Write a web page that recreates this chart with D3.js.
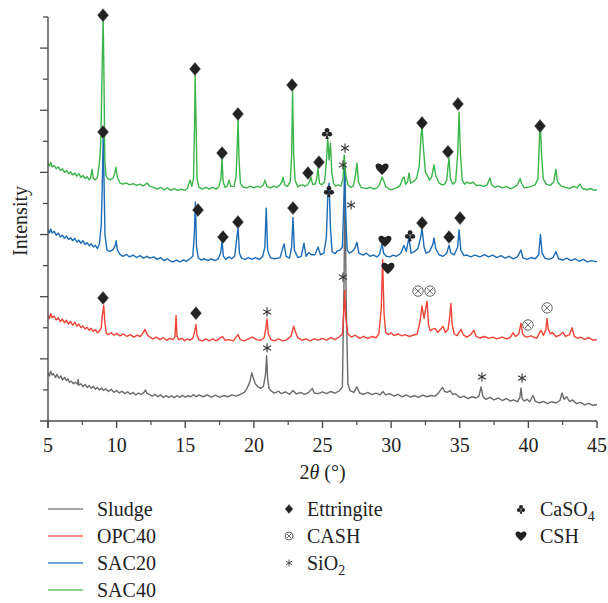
<!DOCTYPE html>
<html>
<head>
<meta charset="utf-8">
<script src="https://cdn.jsdelivr.net/npm/d3@7"></script>
<style>
  html, body { margin: 0; padding: 0; background: #fff; }
  svg { display: block; }
  text { font-family: "Liberation Serif", "DejaVu Serif", serif; fill: #222; }
</style>
</head>
<body>
<svg id="chart" width="608" height="603"></svg>
<script>
// XRD patterns, 2θ (°) vs. stacked intensity (a.u.)
const sludge = [
  [5.00,1.55],[5.10,1.45],[5.20,1.60],[5.30,1.48],[5.40,1.52],[5.55,1.40],[5.65,1.50],[5.80,1.38],[5.95,1.45],[6.05,1.32],
  [6.20,1.40],[6.35,1.30],[6.45,1.36],[6.55,1.25],[6.70,1.28],[6.85,1.20],[7.00,1.25],[7.15,1.18],[7.20,1.34],[7.25,1.15],
  [7.40,1.20],[7.55,1.10],[7.70,1.18],[7.85,1.08],[8.00,1.14],[8.15,1.05],[8.30,1.12],[8.45,1.02],[8.60,1.08],[8.75,1.00],
  [8.90,1.06],[9.05,0.98],[9.20,1.04],[9.40,0.95],[9.60,1.02],[9.80,0.92],[10.00,0.98],[10.20,0.90],[10.40,0.96],[10.60,0.88],
  [10.80,0.94],[11.00,0.86],[11.20,0.92],[11.40,0.84],[11.60,0.90],[11.80,0.86],[12.00,0.92],[12.10,1.00],[12.20,0.90],[12.40,0.85],
  [12.60,0.80],[12.80,0.86],[13.00,0.78],[13.20,0.84],[13.40,0.76],[13.60,0.82],[13.80,0.76],[14.00,0.81],[14.20,0.75],[14.40,0.82],
  [14.60,0.76],[14.80,0.83],[15.00,0.77],[15.20,0.82],[15.40,0.78],[15.60,0.85],[15.80,0.78],[16.00,0.84],[16.30,0.78],[16.60,0.84],
  [16.90,0.77],[17.20,0.83],[17.50,0.76],[17.80,0.82],[18.10,0.78],[18.40,0.84],[18.70,0.80],[19.00,0.86],[19.30,0.92],[19.50,1.05],
  [19.70,1.25],[19.85,1.55],[19.95,1.40],[20.10,1.20],[20.30,1.10],[20.50,1.05],[20.70,1.12],[20.85,1.50],[20.93,2.10],[21.00,1.40],
  [21.10,1.05],[21.30,0.95],[21.50,0.90],[21.80,0.96],[22.00,0.88],[22.30,0.94],[22.60,0.86],[22.85,0.98],[23.10,0.87],[23.40,0.92],
  [23.70,0.86],[24.00,0.92],[24.25,1.05],[24.40,0.90],[24.70,0.88],[25.00,0.94],[25.30,0.88],[25.60,0.95],[25.90,0.90],[26.20,0.96],
  [26.45,1.10],[26.57,4.50],[26.64,8.10],[26.72,4.00],[26.85,1.20],[27.00,0.98],[27.30,0.92],[27.50,1.10],[27.70,0.90],[28.00,0.86],
  [28.30,0.92],[28.60,0.85],[28.90,0.90],[29.20,0.84],[29.40,0.95],[29.60,0.84],[29.90,0.88],[30.20,0.80],[30.50,0.86],[30.80,0.78],
  [31.10,0.84],[31.40,0.77],[31.70,0.82],[32.00,0.76],[32.30,0.83],[32.60,0.78],[32.90,0.82],[33.20,0.80],[33.45,0.90],[33.60,1.00],
  [33.75,1.08],[33.90,0.95],[34.10,0.92],[34.30,0.98],[34.50,0.85],[34.70,0.88],[35.00,0.75],[35.30,0.80],[35.60,0.72],[35.90,0.78],
  [36.20,0.74],[36.40,0.80],[36.55,1.10],[36.70,0.78],[36.90,0.70],[37.20,0.76],[37.50,0.68],[37.80,0.74],[38.10,0.66],[38.40,0.72],
  [38.70,0.64],[38.90,0.68],[39.20,0.62],[39.38,0.75],[39.46,1.06],[39.55,0.72],[39.70,0.64],[39.90,0.70],[40.10,0.62],[40.34,0.82],
  [40.50,0.64],[40.80,0.58],[41.10,0.63],[41.40,0.56],[41.70,0.62],[42.00,0.58],[42.30,0.66],[42.45,0.90],[42.60,0.70],[42.80,0.78],
  [43.00,0.62],[43.20,0.68],[43.50,0.56],[43.80,0.60],[44.10,0.52],[44.40,0.57],[44.70,0.50],[45.00,0.53]
];

const opc40 = [
  [5.00,3.40],[5.10,3.30],[5.20,3.45],[5.30,3.32],[5.45,3.38],[5.60,3.25],[5.75,3.32],[5.90,3.20],[6.05,3.28],[6.20,3.16],
  [6.35,3.24],[6.50,3.12],[6.65,3.20],[6.80,3.08],[6.95,3.18],[7.10,3.05],[7.25,3.12],[7.40,3.00],[7.55,3.06],[7.70,2.96],
  [7.85,3.02],[8.00,2.92],[8.15,2.98],[8.30,2.88],[8.45,2.94],[8.60,2.84],[8.75,2.90],[8.88,3.00],[8.96,3.40],[9.06,3.72],
  [9.14,3.20],[9.25,2.82],[9.40,2.78],[9.60,2.84],[9.80,2.76],[10.00,2.82],[10.25,2.74],[10.50,2.80],[10.75,2.72],[11.00,2.78],
  [11.25,2.70],[11.50,2.76],[11.75,2.72],[11.95,2.85],[12.07,2.95],[12.20,2.80],[12.40,2.70],[12.65,2.64],[12.90,2.70],[13.15,2.62],
  [13.40,2.68],[13.65,2.60],[13.90,2.66],[14.10,2.62],[14.25,2.70],[14.33,3.40],[14.40,2.72],[14.55,2.62],[14.76,2.66],[14.95,2.58],
  [15.13,2.64],[15.35,2.60],[15.55,2.66],[15.70,2.90],[15.78,3.10],[15.86,2.75],[16.00,2.62],[16.25,2.58],[16.50,2.64],[16.75,2.58],
  [17.00,2.64],[17.25,2.58],[17.50,2.66],[17.70,2.72],[17.90,2.60],[18.20,2.62],[18.50,2.58],[18.84,2.78],[19.00,2.62],[19.30,2.58],
  [19.60,2.64],[19.90,2.70],[20.20,2.62],[20.50,2.60],[20.75,2.68],[20.88,3.00],[20.96,3.28],[21.05,2.80],[21.25,2.62],[21.50,2.58],
  [21.80,2.64],[22.10,2.58],[22.40,2.62],[22.70,2.72],[22.90,3.05],[23.00,2.90],[23.20,2.68],[23.50,2.60],[23.80,2.64],[24.10,2.58],
  [24.40,2.64],[24.70,2.60],[25.00,2.66],[25.30,2.60],[25.60,2.68],[25.90,2.62],[26.20,2.70],[26.45,2.80],[26.55,3.50],[26.62,4.20],
  [26.70,3.30],[26.85,2.80],[27.10,2.70],[27.40,2.76],[27.70,2.66],[28.00,2.72],[28.30,2.65],[28.60,2.72],[28.90,2.68],[29.10,2.80],
  [29.28,3.60],[29.38,5.20],[29.48,3.50],[29.60,2.85],[29.80,2.78],[30.00,2.84],[30.20,2.75],[30.50,2.80],[30.80,2.74],[31.00,2.78],
  [31.30,2.72],[31.60,2.76],[31.90,2.80],[32.10,3.20],[32.25,3.70],[32.40,3.30],[32.55,3.70],[32.62,3.85],[32.72,3.10],[32.85,2.90],
  [33.00,2.95],[33.20,2.98],[33.40,2.85],[33.60,2.95],[33.78,3.05],[33.95,2.85],[34.15,2.95],[34.28,3.40],[34.36,3.78],[34.45,3.10],
  [34.60,2.80],[34.80,2.75],[35.09,2.95],[35.25,2.78],[35.50,2.70],[35.75,2.76],[36.04,2.92],[36.20,2.72],[36.48,2.67],[36.80,2.72],
  [37.10,2.66],[37.42,2.70],[37.70,2.64],[38.10,2.70],[38.44,2.64],[38.70,2.70],[38.88,2.84],[39.05,2.72],[39.30,2.80],[39.46,3.15],
  [39.58,2.80],[39.75,2.72],[39.90,2.70],[40.20,2.74],[40.60,2.66],[40.92,2.92],[41.10,2.75],[41.28,2.95],[41.36,3.30],[41.45,2.95],
  [41.60,2.80],[41.75,2.85],[42.00,2.72],[42.30,2.76],[42.52,2.86],[42.70,2.72],[43.00,2.78],[43.18,3.00],[43.35,2.72],[43.60,2.66],
  [43.80,2.70],[44.10,2.63],[44.40,2.68],[44.70,2.60],[45.00,2.62]
];

const sac20 = [
  [5.00,6.15],[5.10,6.05],[5.20,6.18],[5.30,6.05],[5.45,6.10],[5.60,5.98],[5.75,6.05],[5.90,5.92],[6.05,5.98],[6.20,5.88],
  [6.35,5.95],[6.50,5.84],[6.65,5.90],[6.80,5.80],[6.95,5.88],[7.10,5.76],[7.25,5.82],[7.40,5.72],[7.55,5.80],[7.70,5.68],
  [7.85,5.74],[8.00,5.64],[8.15,5.70],[8.30,5.60],[8.45,5.65],[8.60,5.55],[8.75,5.70],[8.88,6.30],[8.95,7.50],[9.02,9.10],
  [9.08,7.80],[9.15,6.00],[9.30,5.50],[9.50,5.46],[9.75,5.52],[9.90,5.65],[9.97,5.80],[10.05,5.50],[10.25,5.36],[10.46,5.30],
  [10.70,5.36],[10.95,5.28],[11.20,5.34],[11.45,5.26],[11.70,5.32],[11.95,5.24],[12.20,5.30],[12.43,5.24],[12.70,5.28],[12.95,5.20],
  [13.20,5.26],[13.45,5.16],[13.70,5.22],[13.95,5.14],[14.11,5.12],[14.35,5.18],[14.60,5.12],[14.85,5.18],[15.10,5.14],[15.35,5.22],
  [15.55,5.30],[15.66,6.00],[15.74,7.05],[15.82,5.60],[15.95,5.25],[16.15,5.18],[16.40,5.22],[16.65,5.16],[16.90,5.22],[17.15,5.16],
  [17.40,5.22],[17.58,5.40],[17.68,5.80],[17.78,5.30],[17.95,5.20],[18.19,5.28],[18.40,5.22],[18.60,5.30],[18.76,5.90],[18.85,6.20],
  [18.95,5.40],[19.10,5.24],[19.35,5.20],[19.60,5.26],[19.85,5.20],[20.10,5.26],[20.40,5.20],[20.65,5.30],[20.80,5.60],[20.90,6.85],
  [21.00,5.50],[21.20,5.25],[21.50,5.22],[21.90,5.25],[22.20,5.70],[22.35,5.30],[22.60,5.24],[22.75,5.60],[22.85,6.55],[22.95,5.50],
  [23.20,5.26],[23.45,5.30],[23.65,5.72],[23.80,5.30],[24.00,5.42],[24.20,5.35],[24.45,5.35],[24.67,5.60],[24.85,5.35],[25.10,5.40],
  [25.28,5.90],[25.40,7.40],[25.48,7.65],[25.58,6.20],[25.70,5.45],[25.91,5.38],[26.10,5.48],[26.28,5.50],[26.45,5.60],[26.55,7.00],
  [26.62,8.20],[26.70,6.50],[26.80,5.50],[26.95,5.40],[27.15,5.45],[27.35,5.55],[27.51,5.75],[27.65,5.40],[27.95,5.34],[28.20,5.40],
  [28.45,5.30],[28.70,5.34],[28.97,5.28],[29.15,5.36],[29.34,5.70],[29.45,5.40],[29.65,5.30],[29.92,5.28],[30.14,5.34],[30.40,5.30],
  [30.70,5.40],[30.94,5.65],[31.10,5.45],[31.30,5.90],[31.45,5.40],[31.70,5.45],[31.95,5.55],[32.15,5.90],[32.25,6.20],[32.40,5.60],
  [32.54,5.40],[32.80,5.45],[33.05,5.70],[33.12,5.89],[33.25,5.55],[33.49,5.35],[33.78,5.30],[34.05,5.40],[34.22,5.66],[34.35,5.40],
  [34.60,5.35],[34.85,5.60],[34.95,6.15],[35.08,5.50],[35.30,5.32],[35.53,5.34],[35.80,5.28],[36.10,5.34],[36.48,5.28],[36.80,5.35],
  [37.10,5.28],[37.40,5.34],[37.70,5.26],[38.00,5.32],[38.30,5.24],[38.60,5.30],[38.90,5.22],[39.20,5.28],[39.46,5.50],[39.60,5.25],
  [39.90,5.20],[40.20,5.26],[40.50,5.22],[40.75,5.35],[40.88,6.00],[41.00,5.40],[41.20,5.24],[41.50,5.20],[41.80,5.26],[42.01,5.45],
  [42.20,5.22],[42.50,5.18],[42.80,5.24],[43.10,5.16],[43.40,5.22],[43.70,5.14],[44.00,5.20],[44.30,5.12],[44.60,5.16],[45.00,5.12]
];

const sac40 = [
  [5.00,8.30],[5.10,8.20],[5.20,8.32],[5.30,8.18],[5.45,8.22],[5.60,8.12],[5.75,8.18],[5.90,8.06],[6.05,8.12],[6.20,8.00],
  [6.35,8.06],[6.50,7.96],[6.65,8.02],[6.80,7.92],[6.95,7.98],[7.10,7.88],[7.25,7.96],[7.40,7.84],[7.55,7.90],[7.70,7.80],
  [7.85,7.86],[8.00,7.76],[8.10,7.82],[8.21,8.10],[8.30,7.80],[8.45,7.76],[8.60,7.85],[8.75,8.30],[8.85,9.00],[8.95,11.50],
  [9.02,12.95],[9.08,11.00],[9.14,8.40],[9.22,7.90],[9.35,7.80],[9.55,7.76],[9.75,7.82],[9.88,8.00],[9.95,8.17],[10.05,7.85],
  [10.25,7.66],[10.45,7.62],[10.70,7.66],[10.95,7.60],[11.20,7.64],[11.45,7.58],[11.70,7.62],[11.95,7.56],[12.21,7.66],[12.40,7.56],
  [12.70,7.52],[12.95,7.46],[13.20,7.52],[13.45,7.44],[13.70,7.50],[13.95,7.42],[14.20,7.48],[14.45,7.42],[14.70,7.46],[14.95,7.42],
  [15.15,7.48],[15.35,7.75],[15.48,7.55],[15.60,7.80],[15.68,9.50],[15.72,11.15],[15.78,9.80],[15.86,7.80],[16.00,7.52],[16.25,7.46],
  [16.50,7.52],[16.75,7.46],[17.00,7.52],[17.25,7.46],[17.45,7.55],[17.60,7.80],[17.68,8.45],[17.76,7.70],[17.90,7.52],[18.05,7.56],
  [18.19,7.75],[18.32,7.55],[18.55,7.55],[18.70,7.85],[18.80,9.00],[18.85,9.70],[18.92,8.40],[19.02,7.65],[19.20,7.53],[19.50,7.50],
  [19.75,7.56],[20.00,7.50],[20.25,7.55],[20.50,7.52],[20.70,7.60],[20.81,7.75],[20.95,7.55],[21.20,7.50],[21.45,7.56],[21.70,7.52],
  [21.90,7.60],[22.05,7.70],[22.12,7.85],[22.25,7.60],[22.45,7.55],[22.65,7.70],[22.75,8.50],[22.82,10.60],[22.90,8.60],[23.00,7.75],
  [23.20,7.53],[23.36,7.58],[23.55,7.60],[23.70,7.55],[23.90,7.60],[24.05,7.70],[24.16,7.85],[24.28,7.62],[24.45,7.62],[24.58,7.80],
  [24.67,8.14],[24.78,7.65],[24.95,7.60],[25.15,7.70],[25.28,8.30],[25.38,9.10],[25.48,8.40],[25.58,8.95],[25.68,8.00],[25.80,7.65],
  [25.95,7.56],[26.15,7.60],[26.35,7.56],[26.50,7.80],[26.58,8.56],[26.70,7.90],[26.85,7.60],[27.05,7.52],[27.25,7.56],[27.40,7.90],
  [27.51,8.30],[27.62,7.70],[27.80,7.52],[27.95,7.50],[28.20,7.48],[28.50,7.52],[28.75,7.46],[28.97,7.50],[29.15,7.60],[29.34,7.85],
  [29.45,7.75],[29.60,7.55],[29.80,7.48],[30.00,7.44],[30.14,7.46],[30.40,7.50],[30.65,7.58],[30.85,7.80],[30.94,7.85],[31.05,7.62],
  [31.20,7.70],[31.30,7.98],[31.42,7.65],[31.60,7.70],[31.85,7.80],[32.05,8.20],[32.18,9.20],[32.25,9.46],[32.35,8.80],[32.50,8.00],
  [32.65,7.90],[32.80,7.75],[32.95,7.85],[33.12,8.24],[33.25,7.90],[33.49,7.66],[33.70,7.60],[33.90,7.62],[34.05,7.75],[34.15,8.20],
  [34.22,8.46],[34.32,7.80],[34.50,7.62],[34.70,7.70],[34.85,8.60],[34.95,9.94],[35.05,8.60],[35.18,7.75],[35.35,7.62],[35.53,7.69],
  [35.75,7.64],[35.97,7.69],[36.20,7.58],[36.48,7.59],[36.75,7.55],[37.00,7.60],[37.20,7.82],[37.32,7.60],[37.55,7.52],[37.80,7.56],
  [38.10,7.50],[38.40,7.54],[38.70,7.48],[38.95,7.52],[39.20,7.60],[39.40,7.80],[39.50,7.65],[39.70,7.50],[39.95,7.52],[40.20,7.55],
  [40.50,7.60],[40.70,7.80],[40.82,9.20],[40.88,9.45],[40.96,8.60],[41.08,7.80],[41.30,7.62],[41.60,7.58],[41.85,7.70],[42.00,8.10],
  [42.12,7.70],[42.40,7.55],[42.70,7.52],[43.00,7.48],[43.30,7.55],[43.55,7.50],[43.75,7.62],[43.95,7.48],[44.25,7.44],[44.55,7.48],
  [44.80,7.42],[45.00,7.45]
];

// Phase markers placed above the peaks (2θ, intensity)
const ettringite = [
  [9.01,13.06],[15.71,11.33],[17.68,8.62],[18.84,9.88],[22.78,10.81],[23.94,7.98],[24.74,8.33],[32.25,9.59],[34.14,8.66],[34.87,10.20],[40.85,9.49],
  [9.01,9.30],[15.93,6.79],[17.75,5.92],[18.84,6.40],[22.85,6.85],[32.25,6.37],[34.22,5.92],[35.02,6.53],
  [9.01,3.96],[15.78,3.47]
];
const caso4 = [[25.33,9.27],[25.47,7.40],[31.38,5.98]];
const sio2 = [[26.64,8.78],[26.49,8.24],[27.08,6.95],[26.49,4.63],[20.96,3.51],[20.96,2.35],[36.62,1.42],[39.54,1.38]];
const csh = [[29.34,8.11],[29.55,5.79],[29.77,4.92]];
const cash = [[31.96,4.18],[32.83,4.18],[39.97,3.09],[41.36,3.64]];

const seriesNames = ["Sludge", "OPC40", "SAC20", "SAC40"];
const seriesColors = ["#6b6b6b", "#ef4438", "#1c6cb6", "#3bb54a"];
const seriesData = [sludge, opc40, sac20, sac40];

const xTicks = [5, 10, 15, 20, 25, 30, 35, 40, 45];

const svg = d3.select("#chart");
const x = d3.scaleLinear().domain([5, 45]).range([48, 597]);
const y = d3.scaleLinear().domain([0, 13]).range([421, 17]);

const axisColor = "#4a4a4a";

// spectra
const line = d3.line().x(d => x(d[0])).y(d => y(d[1]));
svg.append("g").selectAll("path").data(seriesData).join("path")
  .attr("d", line)
  .attr("fill", "none")
  .attr("stroke", (d, i) => seriesColors[i])
  .attr("stroke-width", 1.4)
  .attr("stroke-linejoin", "round");

// x axis
const xAxis = svg.append("g").attr("transform", "translate(0,421)");
xAxis.append("line").attr("x1", 40).attr("x2", x(45)).attr("stroke", axisColor).attr("stroke-width", 1.4);
const minorX = d3.range(7.5, 45, 5);
xAxis.selectAll("line.maj").data(xTicks).join("line").attr("class", "maj")
  .attr("x1", d => x(d)).attr("x2", d => x(d)).attr("y1", 0).attr("y2", 7)
  .attr("stroke", axisColor).attr("stroke-width", 1.4);
xAxis.selectAll("line.min").data(minorX).join("line").attr("class", "min")
  .attr("x1", d => x(d)).attr("x2", d => x(d)).attr("y1", 0).attr("y2", 4)
  .attr("stroke", axisColor).attr("stroke-width", 1.2);
xAxis.selectAll("text").data(xTicks).join("text")
  .attr("x", d => x(d)).attr("y", 31)
  .attr("text-anchor", "middle").attr("font-size", 20).text(d => d);

// y axis (no labels)
const yAxis = svg.append("g");
yAxis.append("line").attr("x1", 48).attr("x2", 48).attr("y1", y(13)).attr("y2", 428)
  .attr("stroke", axisColor).attr("stroke-width", 1.4);
yAxis.selectAll("line.t").data(d3.range(1, 14)).join("line").attr("class", "t")
  .attr("x1", d => d % 2 === 0 ? 40 : 43).attr("x2", 48)
  .attr("y1", d => y(d)).attr("y2", d => y(d))
  .attr("stroke", axisColor).attr("stroke-width", 1.3);

// axis titles
svg.append("text").attr("x", 322.5).attr("y", 479).attr("text-anchor", "middle").attr("font-size", 20)
  .call(t => {
    t.append("tspan").text("2");
    t.append("tspan").attr("font-style", "italic").text("θ");
    t.append("tspan").text(" (°)");
  });
svg.append("text").attr("transform", "translate(27,221) rotate(-90)")
  .attr("text-anchor", "middle").attr("font-size", 20).text("Intensity");

// marker glyphs
const markerColor = "#222";
function diamond(g, s) {
  g.append("path").attr("d", `M0,${-6.5 * s}L${5.5 * s},0L0,${6.5 * s}L${-5.5 * s},0Z`)
    .attr("fill", markerColor).attr("stroke", "#555").attr("stroke-width", 0.5);
}
function asterisk(g, s) {
  const r = 4.6 * s;
  [90, 30, -30].forEach(a => {
    const rad = a * Math.PI / 180;
    g.append("line")
      .attr("x1", -r * Math.cos(rad)).attr("y1", -r * Math.sin(rad))
      .attr("x2", r * Math.cos(rad)).attr("y2", r * Math.sin(rad))
      .attr("stroke", "#333").attr("stroke-width", 1.1 * s);
  });
}
function club(g, s) {
  const c = 2.4 * s;
  [[0, -2.6], [-2.7, 1.3], [2.7, 1.3]].forEach(p =>
    g.append("circle").attr("cx", p[0] * s).attr("cy", p[1] * s).attr("r", c).attr("fill", markerColor));
  g.append("path").attr("d", `M0,${0}L${1.6 * s},${6 * s}L${-1.6 * s},${6 * s}Z`).attr("fill", markerColor);
}
function heart(g, s) {
  g.append("path")
    .attr("d", "M0,6 C-2.2,3.6 -6.5,0.6 -6.5,-2.6 C-6.5,-5.4 -3.2,-6.6 0,-3.6 C3.2,-6.6 6.5,-5.4 6.5,-2.6 C6.5,0.6 2.2,3.6 0,6Z")
    .attr("transform", `scale(${s})`).attr("fill", markerColor);
}
function otimes(g, s) {
  const r = 5.2 * s, k = r * 0.62;
  g.append("circle").attr("r", r).attr("fill", "#fff").attr("stroke", "#555").attr("stroke-width", 0.9);
  g.append("line").attr("x1", -k).attr("y1", -k).attr("x2", k).attr("y2", k).attr("stroke", "#555").attr("stroke-width", 0.9);
  g.append("line").attr("x1", -k).attr("y1", k).attr("x2", k).attr("y2", -k).attr("stroke", "#555").attr("stroke-width", 0.9);
}

function placeMarkers(data, draw, s) {
  svg.append("g").selectAll("g").data(data).join("g")
    .attr("transform", d => `translate(${x(d[0])},${y(d[1])})`)
    .each(function () { draw(d3.select(this), s); });
}
placeMarkers(ettringite, diamond, 1);
placeMarkers(caso4, club, 1);
placeMarkers(sio2, asterisk, 1);
placeMarkers(csh, heart, 1);
placeMarkers(cash, otimes, 1);

// legend
const rowY = [509, 536, 563, 590];
const leg = svg.append("g");
seriesNames.forEach((name, i) => {
  leg.append("line").attr("x1", 48).attr("x2", 83).attr("y1", rowY[i]).attr("y2", rowY[i])
    .attr("stroke", seriesColors[i]).attr("stroke-width", 1.6).attr("opacity", 0.8);
  leg.append("text").attr("x", 97).attr("y", rowY[i] + 6.5).attr("font-size", 20).text(name);
});

const phases = [
  { label: "Ettringite", sub: null, draw: diamond, s: 0.7, col: 0, row: 0 },
  { label: "CASH", sub: null, draw: otimes, s: 0.75, col: 0, row: 1 },
  { label: "SiO", sub: "2", draw: asterisk, s: 0.75, col: 0, row: 2 },
  { label: "CaSO", sub: "4", draw: club, s: 0.8, col: 1, row: 0 },
  { label: "CSH", sub: null, draw: heart, s: 0.85, col: 1, row: 1 }
];
const colMarkerX = [289, 521];
const colTextX = [307, 540];
phases.forEach(p => {
  const g = leg.append("g").attr("transform", `translate(${colMarkerX[p.col]},${rowY[p.row]})`);
  p.draw(g, p.s);
  const t = leg.append("text").attr("x", colTextX[p.col]).attr("y", rowY[p.row] + 6.5).attr("font-size", 20);
  t.append("tspan").text(p.label);
  if (p.sub) t.append("tspan").attr("dy", 5).attr("font-size", 14).text(p.sub);
});
</script>
</body>
</html>
